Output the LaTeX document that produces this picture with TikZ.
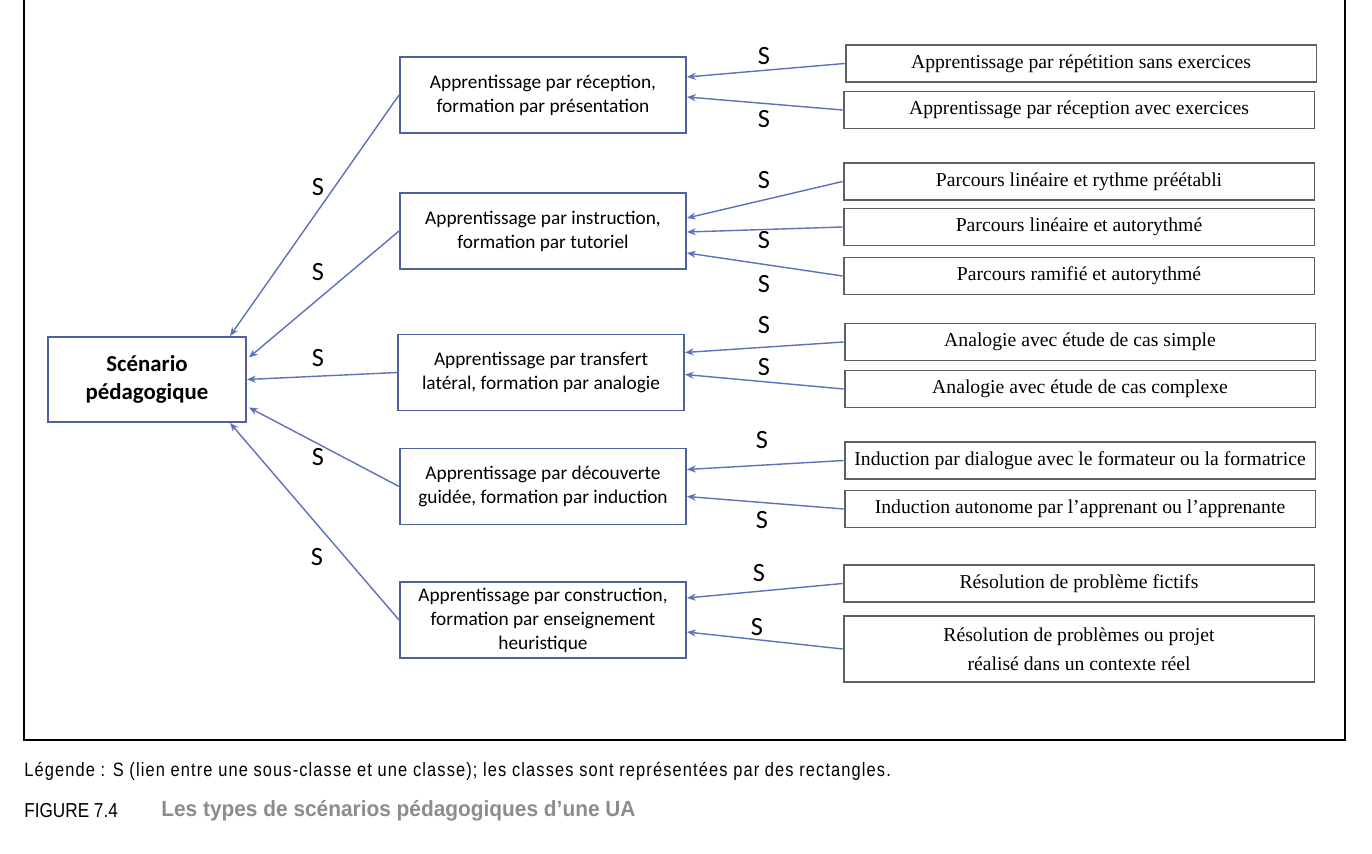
\documentclass[tikz,border=0pt]{standalone}
\usepackage{fontspec}
\setmainfont{Liberation Serif}
\newfontfamily\calib{Carlito}
\newfontfamily\capfont[FakeStretch=0.85]{Liberation Sans}
\newfontfamily\legfont[FakeStretch=0.85,LetterSpace=5.8]{Liberation Sans}
\newfontfamily\titfont[FakeStretch=0.95]{Liberation Sans}
\usetikzlibrary{arrows.meta}
\definecolor{linkblue}{RGB}{92,114,186}
\definecolor{boxblue}{RGB}{80,96,160}
\definecolor{boxgray}{RGB}{95,95,95}
\definecolor{titlegray}{RGB}{140,140,140}
\tikzset{
  rootbox/.style={draw=boxblue, line width=1.1pt, minimum width=3.96cm, minimum height=1.7cm, align=center, inner sep=0pt, font=\calib\fontsize{13}{16}\selectfont\bfseries},
  classbox/.style={draw=boxblue, line width=1.1pt, minimum width=5.72cm, minimum height=1.52cm, align=center, inner sep=0pt, font=\calib\fontsize{11}{13.6}\selectfont},
  subbox/.style={draw=boxgray, line width=1.1pt, minimum width=9.42cm, minimum height=0.74cm, align=center, inner sep=0pt, font=\fontsize{11.2}{16.5}\selectfont},
  link/.style={draw=linkblue, line width=0.8pt, -{Stealth[length=5pt,width=4pt]}},
  slabel/.style={font=\calib\fontsize{15}{18}\selectfont, inner sep=0pt}
}
\begin{document}
\begin{tikzpicture}[x=0.02cm, y=-0.02cm]
\useasboundingbox (0,0) rectangle (1372,854);

\draw[line width=1.2pt] (24,0) -- (24,740) -- (1345,740) -- (1345,0);

\node[rootbox] (scen) at (147,379.5) {Scénario\\pédagogique};

\node[classbox] (rec) at (543,95) {Apprentissage par réception,\\formation par présentation};
\node[classbox] (ins) at (543,231) {Apprentissage par instruction,\\formation par tutoriel};
\node[classbox] (tra) at (541,372.5) {Apprentissage par transfert\\latéral, formation par analogie};
\node[classbox] (dec) at (543,486.5) {Apprentissage par découverte\\guidée, formation par induction};
\node[classbox] (con) at (543,620) {Apprentissage par construction,\\formation par enseignement\\heuristique};

\node[subbox] (r1) at (1081,63.5) {Apprentissage par répétition sans exercices};
\node[subbox] (r2) at (1079,110) {Apprentissage par réception avec exercices};
\node[subbox] (r3) at (1079,181.5) {Parcours linéaire et rythme préétabli};
\node[subbox] (r4) at (1079,227) {Parcours linéaire et autorythmé};
\node[subbox] (r5) at (1079,276) {Parcours ramifié et autorythmé};
\node[subbox] (r6) at (1080,342) {Analogie avec étude de cas simple};
\node[subbox] (r7) at (1080,389) {Analogie avec étude de cas complexe};
\node[subbox] (r8) at (1080,460.5) {Induction par dialogue avec le formateur ou la formatrice};
\node[subbox] (r9) at (1080,509) {Induction autonome par l’apprenant ou l’apprenante};
\node[subbox] (r10) at (1079,583.5) {Résolution de problème fictifs};
\node[subbox, minimum height=1.32cm] (r11) at (1079,649) {Résolution de problèmes ou projet\\réalisé dans un contexte réel};

\draw[link] (rec.west) -- ([shift={(83,0)}]scen.north);
\draw[link] (ins.west) -- ([shift={(2,-22)}]scen.east);
\draw[link] (tra.west) -- (scen.east);
\draw[link] (dec.west) -- ([shift={(2,28)}]scen.east);
\draw[link] (con.west) -- ([shift={(83,0)}]scen.south);

\draw[link] (r1.west) -- ([shift={(0,-18)}]rec.east);
\draw[link] (r2.west) -- ([shift={(0,2)}]rec.east);
\draw[link] (r3.west) -- ([shift={(0,-13)}]ins.east);
\draw[link] (r4.west) -- ([shift={(0,1)}]ins.east);
\draw[link] (r5.west) -- ([shift={(0,22)}]ins.east);
\draw[link] (r6.west) -- ([shift={(0,-20)}]tra.east);
\draw[link] (r7.west) -- ([shift={(0,2)}]tra.east);
\draw[link] (r8.west) -- ([shift={(0,-17)}]dec.east);
\draw[link] (r9.west) -- ([shift={(0,10)}]dec.east);
\draw[link] (r10.west) -- ([shift={(0,-22)}]con.east);
\draw[link] (r11.west) -- ([shift={(0,12)}]con.east);

\node[slabel] (sl1) at (318,187) {S};
\node[slabel] (sl2) at (318,272) {S};
\node[slabel] (sl3) at (318,358) {S};
\node[slabel] (sl4) at (318,457) {S};
\node[slabel] (sl5) at (317,557) {S};

\node[slabel] (sr1) at (764,56) {S};
\node[slabel] (sr2) at (764,119) {S};
\node[slabel] (sr3) at (764,180) {S};
\node[slabel] (sr4) at (764,240) {S};
\node[slabel] (sr5) at (764,284) {S};
\node[slabel] (sr6) at (764,325) {S};
\node[slabel] (sr7) at (764,367) {S};
\node[slabel] (sr8) at (762,440) {S};
\node[slabel] (sr9) at (762,520) {S};
\node[slabel] (sr10) at (759,573) {S};
\node[slabel] (sr11) at (757,627) {S};

\node[anchor=west, inner sep=0pt, font=\legfont\fontsize{11}{13}\selectfont] (legend) at (24,771) {Légende : S (lien entre une sous-classe et une classe); les classes sont représentées par des rectangles.};
\node[anchor=west, inner sep=0pt, font=\capfont\fontsize{11.5}{13}\selectfont] (fignum) at (24,811) {FIGURE 7.4};
\node[anchor=west, inner sep=0pt, text=titlegray, font=\titfont\fontsize{12.5}{14}\selectfont\bfseries] (figtitle) at (161,811) {Les types de scénarios pédagogiques d’une UA};
\end{tikzpicture}
\end{document}
